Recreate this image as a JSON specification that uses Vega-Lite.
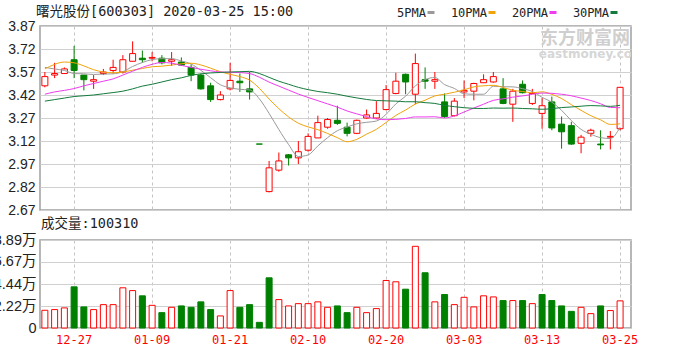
{
  "$schema": "https://vega.github.io/schema/vega-lite/v6.json",
  "padding": {"left": -16, "top": 3, "right": 0, "bottom": 0},
  "background": "white",
  "spacing": -3,
  "config": {
    "view": {"stroke": "#a0a0a0", "strokeWidth": 1.5},
    "font": "Liberation Sans"
  },
  "datasets": {
    "k": [
      {"d":"2019-12-24","o":3.48,"h":3.57,"l":3.47,"c":3.54,"v":17.9,"vd":"up","ma5":3.60,"ma10":3.59,"ma20":3.425,"ma30":3.38},
      {"d":"2019-12-25","o":3.55,"h":3.63,"l":3.53,"c":3.56,"v":18.6,"vd":"up","ma5":3.59,"ma10":3.62,"ma20":3.44,"ma30":3.39},
      {"d":"2019-12-26","o":3.56,"h":3.60,"l":3.56,"c":3.59,"v":20.3,"vd":"up","ma5":3.58,"ma10":3.635,"ma20":3.45,"ma30":3.40},
      {"d":"2019-12-27","o":3.65,"h":3.74,"l":3.53,"c":3.58,"v":41.6,"vd":"dn","ma5":3.56,"ma10":3.63,"ma20":3.462,"ma30":3.41},
      {"d":"2019-12-30","o":3.55,"h":3.55,"l":3.45,"c":3.52,"v":21.3,"vd":"dn","ma5":3.558,"ma10":3.61,"ma20":3.48,"ma30":3.415},
      {"d":"2019-12-31","o":3.51,"h":3.55,"l":3.46,"c":3.52,"v":18.6,"vd":"up","ma5":3.554,"ma10":3.585,"ma20":3.495,"ma30":3.42},
      {"d":"2020-01-02","o":3.56,"h":3.59,"l":3.55,"c":3.57,"v":23.6,"vd":"up","ma5":3.556,"ma10":3.57,"ma20":3.51,"ma30":3.428},
      {"d":"2020-01-03","o":3.58,"h":3.65,"l":3.56,"c":3.60,"v":23.6,"vd":"up","ma5":3.558,"ma10":3.565,"ma20":3.525,"ma30":3.436},
      {"d":"2020-01-06","o":3.57,"h":3.68,"l":3.56,"c":3.65,"v":40.6,"vd":"up","ma5":3.572,"ma10":3.57,"ma20":3.55,"ma30":3.445},
      {"d":"2020-01-07","o":3.64,"h":3.77,"l":3.64,"c":3.69,"v":37.8,"vd":"up","ma5":3.606,"ma10":3.582,"ma20":3.575,"ma30":3.46},
      {"d":"2020-01-08","o":3.66,"h":3.71,"l":3.63,"c":3.65,"v":32.5,"vd":"dn","ma5":3.632,"ma10":3.593,"ma20":3.60,"ma30":3.478},
      {"d":"2020-01-09","o":3.66,"h":3.70,"l":3.64,"c":3.665,"v":22.9,"vd":"up","ma5":3.651,"ma10":3.604,"ma20":3.62,"ma30":3.49},
      {"d":"2020-01-10","o":3.66,"h":3.68,"l":3.62,"c":3.63,"v":15.5,"vd":"dn","ma5":3.657,"ma10":3.608,"ma20":3.632,"ma30":3.505},
      {"d":"2020-01-13","o":3.64,"h":3.70,"l":3.61,"c":3.65,"v":20.9,"vd":"up","ma5":3.657,"ma10":3.615,"ma20":3.628,"ma30":3.52},
      {"d":"2020-01-14","o":3.635,"h":3.665,"l":3.61,"c":3.615,"v":22.3,"vd":"dn","ma5":3.642,"ma10":3.624,"ma20":3.613,"ma30":3.532},
      {"d":"2020-01-15","o":3.60,"h":3.62,"l":3.51,"c":3.55,"v":20.9,"vd":"dn","ma5":3.622,"ma10":3.627,"ma20":3.60,"ma30":3.548},
      {"d":"2020-01-16","o":3.55,"h":3.56,"l":3.455,"c":3.46,"v":26.4,"vd":"dn","ma5":3.581,"ma10":3.616,"ma20":3.588,"ma30":3.558},
      {"d":"2020-01-17","o":3.48,"h":3.50,"l":3.375,"c":3.39,"v":18.6,"vd":"dn","ma5":3.533,"ma10":3.595,"ma20":3.578,"ma30":3.564},
      {"d":"2020-01-20","o":3.39,"h":3.445,"l":3.385,"c":3.42,"v":12.2,"vd":"up","ma5":3.487,"ma10":3.572,"ma20":3.57,"ma30":3.567},
      {"d":"2020-01-21","o":3.46,"h":3.63,"l":3.45,"c":3.515,"v":37.8,"vd":"up","ma5":3.467,"ma10":3.555,"ma20":3.568,"ma30":3.57},
      {"d":"2020-01-22","o":3.51,"h":3.56,"l":3.44,"c":3.50,"v":20.9,"vd":"dn","ma5":3.457,"ma10":3.540,"ma20":3.566,"ma30":3.572},
      {"d":"2020-01-23","o":3.46,"h":3.57,"l":3.39,"c":3.44,"v":23.6,"vd":"dn","ma5":3.453,"ma10":3.517,"ma20":3.560,"ma30":3.574},
      {"d":"2020-02-03","o":3.10,"h":3.10,"l":3.10,"c":3.10,"v":5.7,"vd":"dn","ma5":3.395,"ma10":3.464,"ma20":3.536,"ma30":3.56},
      {"d":"2020-02-04","o":2.79,"h":2.99,"l":2.785,"c":2.945,"v":50.7,"vd":"dn","ma5":3.30,"ma10":3.394,"ma20":3.504,"ma30":3.535},
      {"d":"2020-02-05","o":2.93,"h":3.045,"l":2.92,"c":2.99,"v":28.7,"vd":"up","ma5":3.195,"ma10":3.331,"ma20":3.478,"ma30":3.51},
      {"d":"2020-02-06","o":3.03,"h":3.035,"l":2.96,"c":3.01,"v":22.3,"vd":"up","ma5":3.097,"ma10":3.277,"ma20":3.452,"ma30":3.49},
      {"d":"2020-02-07","o":3.01,"h":3.12,"l":2.97,"c":3.05,"v":24.6,"vd":"up","ma5":3.019,"ma10":3.236,"ma20":3.426,"ma30":3.47},
      {"d":"2020-02-10","o":3.06,"h":3.17,"l":3.05,"c":3.15,"v":24.6,"vd":"up","ma5":3.029,"ma10":3.212,"ma20":3.404,"ma30":3.455},
      {"d":"2020-02-11","o":3.14,"h":3.285,"l":3.14,"c":3.24,"v":26.4,"vd":"up","ma5":3.088,"ma10":3.194,"ma20":3.383,"ma30":3.443},
      {"d":"2020-02-12","o":3.21,"h":3.27,"l":3.20,"c":3.26,"v":20.9,"vd":"up","ma5":3.142,"ma10":3.169,"ma20":3.362,"ma30":3.435},
      {"d":"2020-02-13","o":3.255,"h":3.35,"l":3.225,"c":3.235,"v":22.3,"vd":"dn","ma5":3.187,"ma10":3.142,"ma20":3.341,"ma30":3.425},
      {"d":"2020-02-14","o":3.21,"h":3.24,"l":3.15,"c":3.17,"v":15.5,"vd":"dn","ma5":3.211,"ma10":3.115,"ma20":3.316,"ma30":3.412},
      {"d":"2020-02-17","o":3.17,"h":3.26,"l":3.165,"c":3.255,"v":20.9,"vd":"up","ma5":3.232,"ma10":3.131,"ma20":3.297,"ma30":3.401},
      {"d":"2020-02-18","o":3.27,"h":3.325,"l":3.265,"c":3.29,"v":15.5,"vd":"up","ma5":3.242,"ma10":3.165,"ma20":3.279,"ma30":3.391},
      {"d":"2020-02-19","o":3.27,"h":3.38,"l":3.265,"c":3.30,"v":19.6,"vd":"up","ma5":3.25,"ma10":3.196,"ma20":3.264,"ma30":3.384},
      {"d":"2020-02-20","o":3.325,"h":3.485,"l":3.32,"c":3.455,"v":48.0,"vd":"up","ma5":3.294,"ma10":3.241,"ma20":3.259,"ma30":3.382},
      {"d":"2020-02-21","o":3.43,"h":3.565,"l":3.425,"c":3.51,"v":46.7,"vd":"up","ma5":3.362,"ma10":3.287,"ma20":3.261,"ma30":3.380},
      {"d":"2020-02-24","o":3.555,"h":3.56,"l":3.425,"c":3.505,"v":39.2,"vd":"dn","ma5":3.412,"ma10":3.322,"ma20":3.267,"ma30":3.376},
      {"d":"2020-02-25","o":3.425,"h":3.69,"l":3.36,"c":3.625,"v":82.5,"vd":"up","ma5":3.479,"ma10":3.361,"ma20":3.277,"ma30":3.376},
      {"d":"2020-02-26","o":3.52,"h":3.60,"l":3.46,"c":3.51,"v":55.8,"vd":"dn","ma5":3.521,"ma10":3.386,"ma20":3.277,"ma30":3.370},
      {"d":"2020-02-27","o":3.51,"h":3.57,"l":3.46,"c":3.52,"v":26.4,"vd":"up","ma5":3.534,"ma10":3.414,"ma20":3.278,"ma30":3.365},
      {"d":"2020-02-28","o":3.375,"h":3.43,"l":3.27,"c":3.28,"v":33.8,"vd":"dn","ma5":3.488,"ma10":3.425,"ma20":3.270,"ma30":3.352},
      {"d":"2020-03-02","o":3.285,"h":3.40,"l":3.28,"c":3.38,"v":23.6,"vd":"up","ma5":3.463,"ma10":3.438,"ma20":3.284,"ma30":3.344},
      {"d":"2020-03-03","o":3.44,"h":3.515,"l":3.40,"c":3.45,"v":31.0,"vd":"up","ma5":3.428,"ma10":3.454,"ma20":3.309,"ma30":3.337},
      {"d":"2020-03-04","o":3.445,"h":3.50,"l":3.385,"c":3.495,"v":21.3,"vd":"up","ma5":3.425,"ma10":3.473,"ma20":3.335,"ma30":3.333},
      {"d":"2020-03-05","o":3.50,"h":3.555,"l":3.50,"c":3.52,"v":32.5,"vd":"up","ma5":3.425,"ma10":3.480,"ma20":3.36,"ma30":3.332},
      {"d":"2020-03-06","o":3.505,"h":3.57,"l":3.50,"c":3.54,"v":31.4,"vd":"up","ma5":3.477,"ma10":3.483,"ma20":3.385,"ma30":3.335},
      {"d":"2020-03-09","o":3.46,"h":3.53,"l":3.36,"c":3.365,"v":27.7,"vd":"dn","ma5":3.474,"ma10":3.469,"ma20":3.395,"ma30":3.334},
      {"d":"2020-03-10","o":3.36,"h":3.46,"l":3.245,"c":3.445,"v":27.7,"vd":"up","ma5":3.473,"ma10":3.451,"ma20":3.406,"ma30":3.335},
      {"d":"2020-03-11","o":3.49,"h":3.515,"l":3.43,"c":3.435,"v":27.7,"vd":"dn","ma5":3.461,"ma10":3.443,"ma20":3.414,"ma30":3.332},
      {"d":"2020-03-12","o":3.365,"h":3.46,"l":3.355,"c":3.43,"v":24.6,"vd":"up","ma5":3.443,"ma10":3.434,"ma20":3.424,"ma30":3.330},
      {"d":"2020-03-13","o":3.30,"h":3.40,"l":3.20,"c":3.35,"v":33.8,"vd":"dn","ma5":3.405,"ma10":3.441,"ma20":3.433,"ma30":3.327},
      {"d":"2020-03-16","o":3.375,"h":3.41,"l":3.19,"c":3.205,"v":27.7,"vd":"dn","ma5":3.373,"ma10":3.424,"ma20":3.431,"ma30":3.331},
      {"d":"2020-03-17","o":3.23,"h":3.28,"l":3.07,"c":3.18,"v":22.3,"vd":"dn","ma5":3.32,"ma10":3.397,"ma20":3.425,"ma30":3.338},
      {"d":"2020-03-18","o":3.22,"h":3.245,"l":3.095,"c":3.10,"v":16.8,"vd":"dn","ma5":3.253,"ma10":3.357,"ma20":3.415,"ma30":3.342},
      {"d":"2020-03-19","o":3.105,"h":3.16,"l":3.04,"c":3.145,"v":20.9,"vd":"up","ma5":3.196,"ma10":3.320,"ma20":3.40,"ma30":3.347},
      {"d":"2020-03-20","o":3.17,"h":3.20,"l":3.148,"c":3.19,"v":14.5,"vd":"up","ma5":3.164,"ma10":3.285,"ma20":3.384,"ma30":3.351},
      {"d":"2020-03-23","o":3.10,"h":3.19,"l":3.065,"c":3.095,"v":22.3,"vd":"dn","ma5":3.142,"ma10":3.258,"ma20":3.363,"ma30":3.349},
      {"d":"2020-03-24","o":3.145,"h":3.185,"l":3.065,"c":3.15,"v":17.6,"vd":"up","ma5":3.136,"ma10":3.228,"ma20":3.339,"ma30":3.346},
      {"d":"2020-03-25","o":3.20,"h":3.47,"l":3.19,"c":3.47,"v":27.4,"vd":"up","ma5":3.21,"ma10":3.232,"ma20":3.337,"ma30":3.353}
    ]
  },
  "vconcat": [
    {
      "width": 591,
      "height": 184,
      "title": {
        "text": "曙光股份[600303] 2020-03-25 15:00",
        "anchor": "start",
        "frame": "group",
        "font": "DejaVu Sans Mono, Noto Sans CJK SC",
        "fontSize": 13.5,
        "fontWeight": "normal",
        "color": "#222222",
        "offset": 1,
        "dx": -4
      },
      "data": {"name": "k"},
      "encoding": {
        "x": {
          "field": "d",
          "type": "ordinal",
          "scale": {"type": "band", "paddingInner": 0, "paddingOuter": 0.31, "align": 0},
          "axis": {
            "values": ["2019-12-27","2020-01-09","2020-01-21","2020-02-10","2020-02-20","2020-03-03","2020-03-13","2020-03-25"],
            "labels": false,
            "ticks": false,
            "domain": false,
            "title": null,
            "grid": true,
            "gridDash": [3, 3],
            "gridColor": "#c4c4c4",
            "bandPosition": 0.5
          }
        }
      },
      "layer": [
        {
          "mark": {"type": "rule", "strokeWidth": 1},
          "encoding": {
            "y": {
              "field": "l",
              "type": "quantitative",
              "scale": {"domain": [2.67, 3.87], "nice": false, "zero": false},
              "axis": {
                "values": [2.67, 2.82, 2.97, 3.12, 3.27, 3.42, 3.57, 3.72, 3.87],
                "tickCount": 20,
                "format": ".2f",
                "title": null,
                "domain": false,
                "ticks": false,
                "labelOverlap": false,
                "labelPadding": 5,
                "labelFontSize": 14,
                "labelFont": "Liberation Sans",
                "labelColor": "#222222",
                "gridColor": "#d0d0d0"
              }
            },
            "y2": {"field": "h"},
            "color": {"condition": {"test": "datum.c > datum.o", "value": "#ff0000"}, "value": "#008000"}
          }
        },
        {
          "mark": {"type": "bar", "size": 6, "strokeWidth": 1},
          "encoding": {
            "y": {"field": "o", "type": "quantitative"},
            "y2": {"field": "c"},
            "fill": {"condition": {"test": "datum.c > datum.o", "value": "#ffffff"}, "value": "#008000"},
            "stroke": {"condition": {"test": "datum.c > datum.o", "value": "#ff0000"}, "value": "#008000"}
          }
        },
        {
          "transform": [{"fold": ["ma5", "ma10", "ma20", "ma30"], "as": ["ma", "val"]}],
          "mark": {"type": "line", "strokeWidth": 1, "interpolate": "monotone"},
          "encoding": {
            "y": {"field": "val", "type": "quantitative"},
            "color": {
              "field": "ma",
              "type": "nominal",
              "scale": {"domain": ["ma5", "ma10", "ma20", "ma30"], "range": ["#9a9a9a", "#f0a30a", "#ee3cee", "#137a3c"]},
              "legend": {
                "orient": "none",
                "legendX": 385,
                "legendY": -19.5,
                "direction": "horizontal",
                "title": null,
                "symbolType": "stroke",
                "symbolStrokeWidth": 3,
                "symbolSize": 49,
                "labelFont": "DejaVu Sans Mono",
                "labelFontSize": 12,
                "labelColor": "#222222",
                "labelAlign": "right",
                "labelOffset": -11,
                "columnPadding": 9,
                "padding": 0,
                "labelExpr": "replace(datum.value, 'ma', '') + 'PMA'"
              }
            }
          }
        },
        {
          "data": {"values": [{}]},
          "mark": {"type": "text", "text": "东方财富网", "font": "Noto Sans CJK SC", "fontSize": 18, "fontWeight": "bold", "color": "#cfcfcf", "align": "center", "dx": 4, "clip": true},
          "encoding": {
            "x": {"datum": "2020-03-19"},
            "y": {"datum": 3.782}
          }
        },
        {
          "data": {"values": [{}]},
          "mark": {"type": "text", "text": "eastmoney.com", "font": "DejaVu Sans", "fontSize": 12, "fontWeight": "bold", "color": "#d6d6d6", "align": "left", "dx": -13, "clip": true},
          "encoding": {
            "x": {"datum": "2020-03-16"},
            "y": {"datum": 3.69}
          }
        }
      ]
    },
    {
      "width": 591,
      "height": 88,
      "title": {
        "text": "成交量:100310",
        "anchor": "start",
        "frame": "group",
        "font": "DejaVu Sans Mono, Noto Sans CJK SC",
        "fontSize": 13.5,
        "fontWeight": "normal",
        "color": "#222222",
        "offset": 2,
        "dx": 1
      },
      "data": {"name": "k"},
      "mark": {"type": "bar", "size": 6, "strokeWidth": 1},
      "encoding": {
        "x": {
          "field": "d",
          "type": "ordinal",
          "scale": {"type": "band", "paddingInner": 0, "paddingOuter": 0.31, "align": 0},
          "axis": {
            "values": ["2019-12-27","2020-01-09","2020-01-21","2020-02-10","2020-02-20","2020-03-03","2020-03-13","2020-03-25"],
            "labelExpr": "slice(datum.value, 5)",
            "labelFont": "DejaVu Sans Mono",
            "labelFontSize": 12,
            "labelColor": "#ff0000",
            "labelAngle": 0,
            "labelPadding": 6,
            "ticks": false,
            "domain": false,
            "title": null,
            "grid": true,
            "gridDash": [3, 3],
            "gridColor": "#c4c4c4",
            "bandPosition": 0.5
          }
        },
        "y": {
          "field": "v",
          "type": "quantitative",
          "scale": {"domain": [0, 88.89], "nice": false},
          "axis": {
            "values": [0, 22.22, 44.44, 66.67, 88.89],
            "tickCount": 20,
            "labelExpr": "datum.value == 0 ? '0' : format(datum.value, '.2f') + '万'",
            "title": null,
            "domain": false,
            "ticks": false,
            "labelOverlap": false,
            "labelPadding": 4,
            "labelFontSize": 14.5,
            "labelFont": "Liberation Sans, Noto Sans CJK SC",
            "labelColor": "#222222",
            "gridColor": "#d0d0d0"
          }
        },
        "fill": {"condition": {"test": "datum.vd == 'up'", "value": "#ffffff"}, "value": "#008000"},
        "stroke": {"condition": {"test": "datum.vd == 'up'", "value": "#ff0000"}, "value": "#008000"}
      }
    }
  ]
}
